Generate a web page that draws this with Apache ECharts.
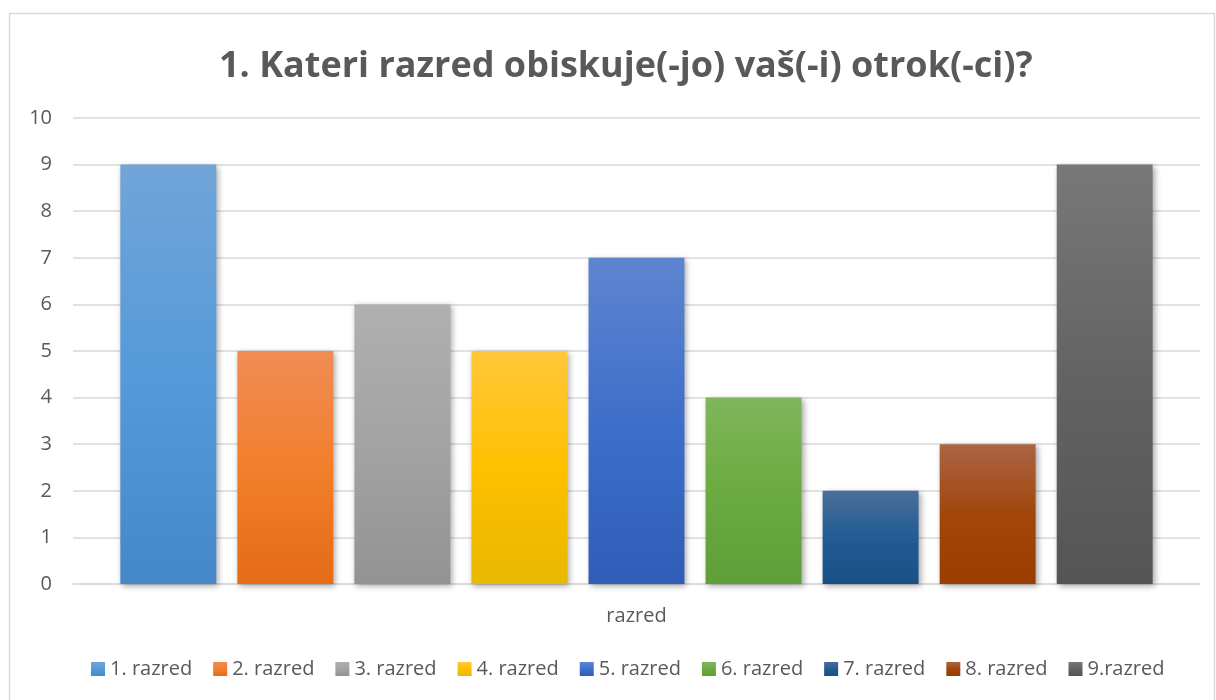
<!DOCTYPE html>
<html>
<head>
<meta charset="utf-8">
<script src="https://cdn.jsdelivr.net/npm/echarts@6/dist/echarts.min.js"></script>
<style>
html,body{margin:0;padding:0;background:#fff;}
#c{width:1216px;height:700px;}
</style>
</head>
<body>
<div id="c"></div>
<script>
var titleText = '1. Kateri razred obiskuje(-jo) vaš(-i) otrok(-ci)?';
var categories = ['razred'];
var seriesNames = ['1. razred','2. razred','3. razred','4. razred','5. razred','6. razred','7. razred','8. razred','9.razred'];
var seriesValues = [9,5,6,5,7,4,2,3,9];
var yTicks = [0,1,2,3,4,5,6,7,8,9,10];
var colorTop = ['#71a5d8','#f08c56','#b0b0b0','#ffc83a','#5e85d0','#80b65c','#4a6e9a','#ab6444','#787878'];
var colorMid = ['#559ad9','#f27f2c','#a3a3a3','#ffc000','#3f6fca','#6cab40','#225c94','#a2460b','#636363'];
var colorBot = ['#4488c8','#e56b18','#939393','#e8b800','#2f5db8','#5f9e38','#1a4f85','#993d00','#555555'];

var chart = echarts.init(document.getElementById('c'), null, {renderer:'canvas'});
var series = seriesNames.map(function(n,i){
  return {
    name:n, type:'bar', data:[seriesValues[i]],
    barGap:'22%', barCategoryGap:'8.4%',
    itemStyle:{
      color:new echarts.graphic.LinearGradient(0,0,0,1,[
        {offset:0,color:colorTop[i]},{offset:0.5,color:colorMid[i]},{offset:1,color:colorBot[i]}]),
      shadowBlur:6, shadowColor:'rgba(0,0,0,0.35)', shadowOffsetX:2, shadowOffsetY:2
    },
    emphasis:{disabled:true}
  };
});
chart.setOption({
  animation:false,
  color: colorMid,
  graphic:[{type:'rect', shape:{x:9.5,y:13.5,width:1205,height:700}, style:{fill:'none',stroke:'#d9d9d9',lineWidth:1.5}, silent:true}],
  title:{text:titleText, left:214, top:44, textStyle:{fontFamily:'Open Sans', fontWeight:'bold', fontSize:36, color:'#595959'}},
  grid:{left:73, right:16, top:118, bottom:116},
  legend:{bottom:16, left:86, itemWidth:14, itemHeight:14, itemGap:21, icon:'rect',
    textStyle:{fontFamily:'Open Sans', fontSize:20, color:'#595959'},
    data:seriesNames},
  xAxis:{type:'category', data:categories,
    axisLine:{lineStyle:{color:'#d9d9d9', width:1.5}}, axisTick:{show:false},
    axisLabel:{fontFamily:'Open Sans', fontSize:20, color:'#595959', margin:22}},
  yAxis:{type:'value', min:0, max:10, interval:1,
    axisLine:{show:false}, axisTick:{show:false},
    splitLine:{lineStyle:{color:'#d9d9d9', width:1.5}},
    axisLabel:{fontFamily:'Open Sans', fontSize:20, color:'#595959', margin:21,
      formatter:function(v){return yTicks.indexOf(v)>=0 ? String(v) : '';}}},
  series:series
});
</script>
</body>
</html>
